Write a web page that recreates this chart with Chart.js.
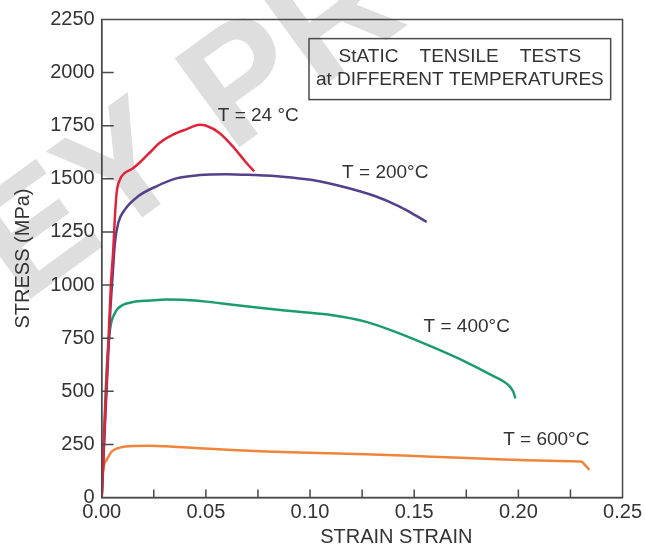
<!DOCTYPE html>
<html>
<head>
<meta charset="utf-8">
<script src="https://cdn.jsdelivr.net/npm/chart.js@4/dist/chart.umd.min.js"></script>
<style>
  html, body { margin: 0; padding: 0; background: #ffffff; }
  #wrap { width: 645px; height: 547px; position: relative; }
</style>
</head>
<body>
<div id="wrap"><canvas id="chart" width="645" height="547"></canvas></div>
<script>
// Stress–strain curves of static tensile tests (strain, stress in MPa)
const strain24  = [0, 0.0044, 0.00554, 0.00635, 0.00717, 0.00874, 0.0111, 0.0143, 0.0183, 0.0231, 0.0279, 0.0342, 0.0406, 0.047, 0.0502, 0.0565, 0.0629, 0.0693, 0.0732];
const stress24  = [0, 1001, 1166, 1323, 1434, 1496, 1528, 1545, 1577, 1624, 1670, 1708, 1733, 1754, 1750, 1716, 1653, 1577, 1535];

const strain200 = [0, 0.004, 0.00554, 0.00635, 0.00793, 0.0111, 0.0175, 0.0263, 0.0358, 0.047, 0.0597, 0.0724, 0.0868, 0.1011, 0.1154, 0.1314, 0.1425, 0.1473, 0.156];
const stress200 = [0, 852, 1088, 1198, 1292, 1355, 1418, 1465, 1502, 1518, 1522, 1518, 1510, 1494, 1464, 1418, 1372, 1347, 1297];

const strain400 = [0, 0.00239, 0.00397, 0.00635, 0.0103, 0.0151, 0.0231, 0.0311, 0.0406, 0.0502, 0.0629, 0.0756, 0.0947, 0.1107, 0.1266, 0.1425, 0.1584, 0.1744, 0.1871, 0.1951, 0.1975, 0.1986];
const stress400 = [0, 601, 789, 868, 907, 920, 927, 932, 930, 922, 907, 893, 874, 858, 828, 774, 710, 640, 576, 530, 499, 467];

const strain600 = [0, 0.00076, 0.00239, 0.00478, 0.00874, 0.0151, 0.0231, 0.0342, 0.047, 0.0629, 0.0788, 0.0947, 0.1266, 0.1584, 0.1903, 0.219, 0.2301, 0.232, 0.2341];
const stress600 = [0, 130, 177, 216, 235, 243, 244, 239, 232, 224, 217, 212, 204, 192, 180, 172, 169, 153, 130];

const curveLabels = ['T = 24 °C', 'T = 200°C', 'T = 400°C', 'T = 600°C'];
const xTickLabels = ['0.00', '', '0.05', '', '0.10', '', '0.15', '', '0.20', '', '0.25'];
const boxLines = ['StATIC    TENSILE    TESTS', 'at DIFFERENT TEMPERATURES'];

const FONT = '"Liberation Sans", Arial, Helvetica, sans-serif';
const INK = '#333333';
const FRAME = '#4a4a4a';

function pairs(xs, ys) { return xs.map((x, i) => ({ x: x, y: ys[i] })); }

function curve(label, xs, ys, color) {
  return {
    label: label,
    data: pairs(xs, ys),
    showLine: true,
    borderColor: color,
    backgroundColor: color,
    borderWidth: 2.5,
    pointRadius: 0,
    cubicInterpolationMode: 'monotone',
    fill: false
  };
}

// Faint diagonal watermark behind the plot
const watermark = {
  id: 'watermark',
  beforeDraw(chart) {
    const ctx = chart.ctx;
    ctx.save();
    ctx.translate(22, 305);
    ctx.rotate(-36 * Math.PI / 180);
    ctx.font = 'bold 160px ' + FONT;
    ctx.fillStyle = '#dedede';
    ctx.textBaseline = 'alphabetic';
    ctx.fillText('EY PRO', 0, 0);
    ctx.restore();
  }
};

// Plot frame, inward tick marks, curve labels, caption box and x-axis title
const decorations = {
  id: 'decorations',
  afterDraw(chart, args, opts) {
    const ctx = chart.ctx;
    const xs = chart.scales.x, ys = chart.scales.y;
    const a = chart.chartArea;
    ctx.save();

    ctx.strokeStyle = FRAME;
    ctx.lineWidth = 1.5;
    ctx.strokeRect(a.left, a.top, a.right - a.left, a.bottom - a.top);

    ctx.beginPath();
    xs.ticks.forEach(t => {
      if (t.value <= xs.min + 1e-9 || t.value >= xs.max - 1e-9) return;
      const px = xs.getPixelForValue(t.value);
      ctx.moveTo(px, a.bottom);
      ctx.lineTo(px, a.bottom - opts.xTick);
    });
    ys.ticks.forEach(t => {
      if (t.value <= ys.min || t.value >= ys.max) return;
      const py = ys.getPixelForValue(t.value);
      ctx.moveTo(a.left, py);
      ctx.lineTo(a.left + opts.yTick, py);
    });
    ctx.stroke();

    ctx.fillStyle = INK;
    ctx.textBaseline = 'middle';
    ctx.textAlign = 'left';
    ctx.font = '19px ' + FONT;
    opts.labelAt.forEach((p, i) => {
      ctx.fillText(curveLabels[i], xs.getPixelForValue(p[0]), ys.getPixelForValue(p[1]));
    });

    const b = opts.box;
    const bx1 = xs.getPixelForValue(b.x0), bx2 = xs.getPixelForValue(b.x1);
    const by1 = ys.getPixelForValue(b.yTop), by2 = ys.getPixelForValue(b.yBottom);
    ctx.strokeStyle = FRAME;
    ctx.lineWidth = 1.5;
    ctx.strokeRect(bx1, by1, bx2 - bx1, by2 - by1);
    ctx.textAlign = 'center';
    ctx.font = '19px ' + FONT;
    boxLines.forEach((line, i) => {
      ctx.fillText(line, (bx1 + bx2) / 2, ys.getPixelForValue(b.lineY[i]));
    });

    ctx.font = '20px ' + FONT;
    ctx.fillText('STRAIN STRAIN', xs.getPixelForValue(opts.xTitleAt), a.bottom + opts.xTitleGap);
    ctx.restore();
  }
};

new Chart(document.getElementById('chart'), {
  type: 'scatter',
  data: {
    datasets: [
      curve('T = 24 °C', strain24, stress24, '#e2243a'),
      curve('T = 200°C', strain200, stress200, '#55408c'),
      curve('T = 400°C', strain400, stress400, '#1b9c6c'),
      curve('T = 600°C', strain600, stress600, '#f0843a')
    ]
  },
  options: {
    responsive: false,
    animation: false,
    devicePixelRatio: 1,
    layout: { padding: { top: 19.5, right: 20, left: 0, bottom: 0 } },
    plugins: {
      legend: { display: false },
      tooltip: { enabled: false },
      decorations: {
        xTick: 8,
        yTick: 12,
        labelAt: [[0.0557, 1799], [0.1154, 1528], [0.1545, 803], [0.1927, 271]],
        box: { x0: 0.0995, x1: 0.2443, yTop: 2160, yBottom: 1873, lineY: [2073, 1967] },
        xTitleAt: 0.1414,
        xTitleGap: 40
      }
    },
    scales: {
      x: {
        type: 'linear',
        min: 0,
        max: 0.25,
        afterFit(scale) { scale.height = 49.5; },
        afterBuildTicks(scale) {
          scale.ticks = xTickLabels.map((_, i) => ({ value: i * 0.025 }));
        },
        ticks: {
          autoSkip: false,
          maxRotation: 0,
          padding: 3,
          color: INK,
          font: { family: FONT, size: 20 },
          callback: (v, i) => xTickLabels[i]
        },
        grid: { display: false, drawTicks: false },
        border: { display: true, color: FRAME, width: 1.5 }
      },
      y: {
        type: 'linear',
        min: 0,
        max: 2250,
        afterFit(scale) { scale.width = 101.7; },
        ticks: {
          stepSize: 250,
          padding: 7,
          color: INK,
          font: { family: FONT, size: 20 },
          callback: v => String(v)
        },
        grid: { display: false, drawTicks: false },
        border: { display: true, color: FRAME, width: 1.5 },
        title: {
          display: true,
          text: 'STRESS (MPa)',
          color: INK,
          font: { family: FONT, size: 20 },
          padding: { top: 11, bottom: 0 }
        }
      }
    }
  },
  plugins: [watermark, decorations]
});
</script>
</body>
</html>
